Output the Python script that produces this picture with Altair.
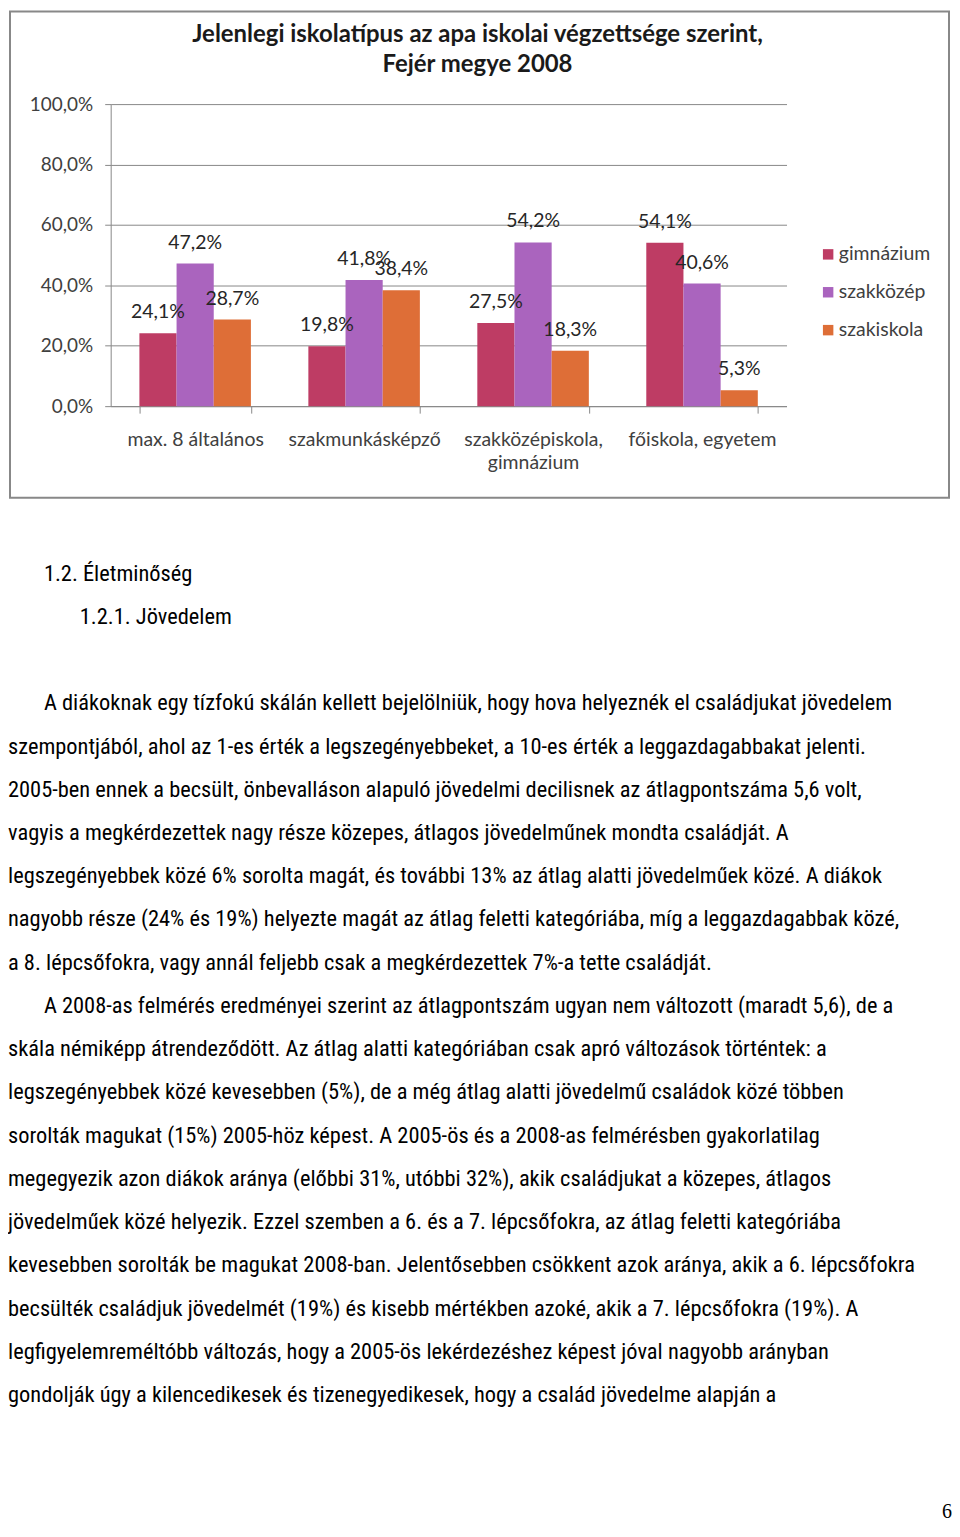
import altair as alt
import pandas as pd

# ---------------- data ----------------
categories = ["max. 8 általános", "szakmunkásképző", "szakközépiskola,\ngimnázium", "főiskola, egyetem"]
series = ["gimnázium", "szakközép", "szakiskola"]
gimnazium = [24.1, 19.8, 27.5, 54.1]
szakkozep = [47.2, 41.8, 54.2, 40.6]
szakiskola = [28.7, 38.4, 18.3, 5.3]
y_ticks = [0, 20, 40, 60, 80, 100]
colors = ["#BE3C64", "#AA64BE", "#DE6E37"]
title_lines = ["Jelenlegi iskolatípus az apa iskolai végzettsége szerint,", "Fejér megye 2008"]

heading_1 = "1.2. Életminőség"
heading_2 = "1.2.1. Jövedelem"
paragraph_1 = [
    "A diákoknak egy tízfokú skálán kellett bejelölniük, hogy hova helyeznék el családjukat jövedelem",
    "szempontjából, ahol az 1-es érték a legszegényebbeket, a 10-es érték a leggazdagabbakat jelenti.",
    "2005-ben ennek a becsült, önbevalláson alapuló jövedelmi decilisnek az átlagpontszáma 5,6 volt,",
    "vagyis a megkérdezettek nagy része közepes, átlagos jövedelműnek mondta családját. A",
    "legszegényebbek közé 6% sorolta magát, és további 13% az átlag alatti jövedelműek közé. A diákok",
    "nagyobb része (24% és 19%) helyezte magát az átlag feletti kategóriába, míg a leggazdagabbak közé,",
    "a 8. lépcsőfokra, vagy annál feljebb csak a megkérdezettek 7%-a tette családját.",
]
paragraph_2 = [
    "A 2008-as felmérés eredményei szerint az átlagpontszám ugyan nem változott (maradt 5,6), de a",
    "skála némiképp átrendeződött. Az átlag alatti kategóriában csak apró változások történtek: a",
    "legszegényebbek közé kevesebben (5%), de a még átlag alatti jövedelmű családok közé többen",
    "sorolták magukat (15%) 2005-höz képest. A 2005-ös és a 2008-as felmérésben gyakorlatilag",
    "megegyezik azon diákok aránya (előbbi 31%, utóbbi 32%), akik családjukat a közepes, átlagos",
    "jövedelműek közé helyezik. Ezzel szemben a 6. és a 7. lépcsőfokra, az átlag feletti kategóriába",
    "kevesebben sorolták be magukat 2008-ban. Jelentősebben csökkent azok aránya, akik a 6. lépcsőfokra",
    "becsülték családjuk jövedelmét (19%) és kisebb mértékben azoké, akik a 7. lépcsőfokra (19%). A",
    "legfigyelemreméltóbb változás, hogy a 2005-ös lekérdezéshez képest jóval nagyobb arányban",
    "gondolják úgy a kilencedikesek és tizenegyedikesek, hogy a család jövedelme alapján a",
]
page_number = "6"

# ---------------- tables ----------------
rows = []
for i, cat in enumerate(categories):
    for s, vals in zip(series, [gimnazium, szakkozep, szakiskola]):
        rows.append({"category": cat, "series": s, "value": vals[i]})
bar_df = pd.DataFrame(rows)

text_rows = [
    {"line": 0, "level": 1, "text": heading_1},
    {"line": 1, "level": 2, "text": heading_2},
]
line_no = 3
for para in [paragraph_1, paragraph_2]:
    for j, t in enumerate(para):
        text_rows.append({"line": line_no, "level": 1 if j == 0 else 0, "text": t})
        line_no += 1
text_df = pd.DataFrame(text_rows)

LABEL_FONT = "Lato"
BODY_FONT = "Roboto Condensed"
GRAY = "#888888"

# ---------------- bar chart ----------------
base = alt.Chart(bar_df).encode(
    x=alt.X(
        "category:N",
        sort=categories,
        scale=alt.Scale(paddingInner=0.34, paddingOuter=0.17),
        axis=alt.Axis(
            title=None,
            tickBand="extent",
            labelAngle=0,
            labelExpr="split(datum.label, '\\n')",
            labelFont=LABEL_FONT,
            labelFontSize=19.5,
            labelColor="#404040",
            labelPadding=17,
            labelLineHeight=24,
            labelOverlap=False,
            labelBound=False,
            labelLimit=300,
            tickSize=7,
            tickColor=GRAY,
            domainColor=GRAY,
            grid=False,
        ),
    ),
    xOffset=alt.XOffset("series:N", sort=series, scale=alt.Scale(paddingInner=0, paddingOuter=0)),
    y=alt.Y(
        "value:Q",
        scale=alt.Scale(domain=[0, 100]),
        axis=alt.Axis(
            title=None,
            values=y_ticks,
            labelExpr="replace(format(datum.value, '.1f'), '.', ',') + '%'",
            labelFont=LABEL_FONT,
            labelFontSize=19,
            labelColor="#404040",
            labelPadding=12,
            tickSize=6,
            tickColor=GRAY,
            domainColor=GRAY,
            gridColor=GRAY,
            grid=True,
        ),
    ),
)

bars = base.mark_bar().encode(
    color=alt.Color(
        "series:N",
        sort=series,
        scale=alt.Scale(domain=series, range=colors),
        legend=alt.Legend(
            orient="none",
            legendX=710,
            legendY=141,
            title=None,
            symbolType="square",
            symbolSize=110,
            symbolStrokeWidth=0,
            labelFont=LABEL_FONT,
            labelFontSize=19.5,
            labelColor="#404040",
            labelOffset=1,
            rowPadding=17,
            padding=0,
        ),
    )
)

labels = base.mark_text(
    dy=-15, baseline="alphabetic", align="center", font=LABEL_FONT, fontSize=19.5, color="#262626"
).transform_calculate(
    label="replace(format(datum.value, '.1f'), '.', ',') + '%'"
).encode(text="label:N")

bar_layer = alt.layer(bars, labels)

one = alt.Data(values=[{}])

border = alt.Chart(one).mark_rect(fillOpacity=0, stroke=GRAY, strokeWidth=2).encode(
    x=alt.value(-101), x2=alt.value(841), y=alt.value(-93), y2=alt.value(395)
)

title = alt.Chart(one).mark_text(
    text=title_lines, font=LABEL_FONT, fontSize=24, fontWeight="bold", color="#1a1a1a",
    align="center", baseline="middle", lineHeight=30,
).encode(x=alt.value(368), y=alt.value(-69))

line_x = alt.X("level:Q", scale=alt.Scale(domain=[0, 2], range=[-103, -31]), axis=None)
line_y = alt.Y("line:Q", scale=alt.Scale(domain=[0, 22], range=[471, 1425.25]), axis=None)

body = alt.Chart(text_df).mark_text(
    align="left", baseline="middle", font=BODY_FONT, fontSize=22.5, color="black"
).encode(x=line_x, y=line_y, text="text:N")

page = alt.Chart(one).mark_text(
    text=page_number, font="Liberation Serif", fontSize=20, color="black", align="center", baseline="middle"
).encode(x=alt.value(839), y=alt.value(1412))

chart = (
    alt.layer(border, title, bar_layer, body, page)
    .resolve_scale(x="independent", y="independent")
    .properties(width=678, height=303, padding=0, background="white")
    .configure_view(strokeWidth=0)
)

chart.save("out.html", embed_options={"renderer": "svg", "actions": False})
